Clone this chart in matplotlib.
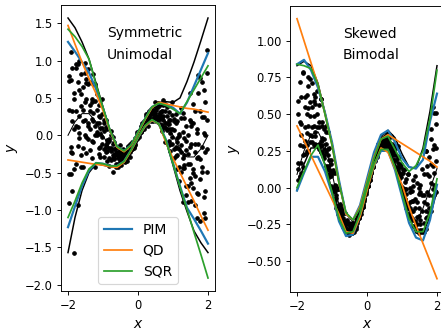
import matplotlib
matplotlib.use("Agg")
import matplotlib.pyplot as plt

# ---------------- curve grid ----------------
GRID_X = [-2.0, -1.8, -1.6, -1.4, -1.2, -1.0, -0.8, -0.6, -0.4, -0.2, 0.0,
          0.2, 0.4, 0.6, 0.8, 1.0, 1.2, 1.4, 1.6, 1.8, 2.0]

# ---------------- left panel: symmetric unimodal ----------------
L_TRUE_UP = [1.57, 1.44, 1.25, 1.02, 0.70, 0.38, 0.07, -0.14, -0.21, -0.14, 0.02,
             0.21, 0.37, 0.44, 0.45, 0.44, 0.50, 0.72, 0.98, 1.27, 1.57]
L_TRUE_LO = [-1.57, -1.10, -0.74, -0.50, -0.38, -0.40, -0.42, -0.43, -0.36, -0.20, -0.02,
             0.14, 0.21, 0.14, -0.08, -0.40, -0.74, -1.02, -1.28, -1.44, -1.57]
L_TRUE_MED = [0.0, 0.18, 0.29, 0.29, 0.18, 0.0, -0.18, -0.29, -0.29, -0.18, 0.0,
              0.18, 0.29, 0.29, 0.18, 0.0, -0.18, -0.29, -0.29, -0.18, 0.0]
L_PIM_UP = [1.25, 1.12, 0.98, 0.84, 0.62, 0.36, 0.06, -0.15, -0.21, -0.13, 0.04,
            0.22, 0.38, 0.43, 0.41, 0.37, 0.29, 0.44, 0.66, 0.88, 1.10]
L_PIM_LO = [-1.23, -0.95, -0.68, -0.47, -0.37, -0.38, -0.41, -0.41, -0.35, -0.20, -0.03,
            0.12, 0.20, 0.15, -0.06, -0.37, -0.68, -0.97, -1.12, -1.28, -1.45]
L_QD_UP = [1.47, 1.22, 0.98, 0.76, 0.56, 0.33, 0.06, -0.16, -0.22, -0.14, 0.03,
           0.21, 0.37, 0.44, 0.42, 0.40, 0.38, 0.36, 0.35, 0.33, 0.31]
L_QD_LO = [-0.33, -0.345, -0.36, -0.375, -0.39, -0.40, -0.42, -0.43, -0.36, -0.21, -0.03,
           0.12, 0.20, 0.15, -0.10, -0.31, -0.50, -0.69, -0.88, -1.08, -1.27]
L_SQR_UP = [1.42, 1.32, 1.19, 1.02, 0.68, 0.37, 0.07, -0.15, -0.21, -0.13, 0.04,
            0.22, 0.38, 0.43, 0.40, 0.35, 0.29, 0.45, 0.61, 0.77, 0.93]
L_SQR_LO = [-1.10, -0.88, -0.64, -0.45, -0.37, -0.38, -0.41, -0.41, -0.35, -0.20, -0.03,
            0.13, 0.21, 0.15, -0.07, -0.38, -0.69, -0.99, -1.30, -1.60, -1.91]

# ---------------- right panel: skewed bimodal ----------------
R_TRUE_UP = [0.83, 0.86, 0.83, 0.71, 0.51, 0.30, 0.04, -0.18, -0.23, -0.15, 0.03,
             0.22, 0.35, 0.39, 0.34, 0.23, 0.14, 0.13, 0.27, 0.52, 0.83]
R_TRUE_LO = [-0.02, 0.16, 0.27, 0.27, 0.16, -0.02, -0.20, -0.31, -0.31, -0.20, -0.02,
             0.16, 0.27, 0.27, 0.16, -0.02, -0.20, -0.31, -0.31, -0.20, -0.02]
R_TRUE_MED = [0.09, 0.25, 0.36, 0.38, 0.29, 0.10, -0.12, -0.27, -0.29, -0.18, -0.01,
              0.17, 0.28, 0.28, 0.17, 0.00, -0.16, -0.24, -0.14, -0.01, 0.13]
R_PIM_UP = [0.84, 0.87, 0.80, 0.68, 0.51, 0.31, 0.05, -0.18, -0.22, -0.12, 0.06,
            0.24, 0.36, 0.39, 0.31, 0.20, 0.14, 0.13, 0.19, 0.45, 0.64]
R_PIM_LO = [-0.02, 0.10, 0.21, 0.21, 0.11, -0.04, -0.23, -0.33, -0.32, -0.19, 0.00,
            0.15, 0.25, 0.25, 0.12, -0.06, -0.24, -0.34, -0.36, -0.22, 0.02]
R_QD_UP = [1.15, 1.00, 0.85, 0.70, 0.50, 0.29, 0.03, -0.18, -0.22, -0.13, 0.04,
           0.21, 0.33, 0.36, 0.33, 0.30, 0.27, 0.24, 0.21, 0.18, 0.14]
R_QD_LO = [0.42, 0.32, 0.22, 0.12, 0.02, -0.08, -0.18, -0.30, -0.31, -0.20, -0.02,
           0.15, 0.27, 0.24, 0.13, 0.02, -0.13, -0.26, -0.38, -0.50, -0.62]
R_SQR_UP = [0.84, 0.83, 0.81, 0.70, 0.50, 0.29, 0.03, -0.17, -0.22, -0.14, 0.03,
            0.20, 0.33, 0.35, 0.26, 0.17, 0.11, 0.15, 0.25, 0.47, 0.80]
R_SQR_LO = [0.00, 0.11, 0.22, 0.29, 0.15, -0.03, -0.21, -0.31, -0.30, -0.18, 0.00,
            0.16, 0.26, 0.26, 0.14, -0.04, -0.21, -0.30, -0.30, -0.17, 0.06]

# ---------------- scatter samples ----------------
PTS_X = [-1.975, -1.925, -1.875, -1.825, -1.775, -1.725, -1.675, -1.625, -1.575, -1.525,
         -1.475, -1.425, -1.375, -1.325, -1.275, -1.225, -1.175, -1.125, -1.075, -1.025,
         -0.975, -0.925, -0.875, -0.825, -0.775, -0.725, -0.675, -0.625, -0.575, -0.525,
         -0.475, -0.425, -0.375, -0.325, -0.275, -0.225, -0.175, -0.125, -0.075, -0.025,
         0.025, 0.075, 0.125, 0.175, 0.225, 0.275, 0.325, 0.375, 0.425, 0.475,
         0.525, 0.575, 0.625, 0.675, 0.725, 0.775, 0.825, 0.875, 0.925, 0.975,
         1.025, 1.075, 1.125, 1.175, 1.225, 1.275, 1.325, 1.375, 1.425, 1.475,
         1.525, 1.575, 1.625, 1.675, 1.725, 1.775, 1.825, 1.875, 1.925, 1.975]

L_PTS_Y1 = [0.34, -0.15, 0.90, -1.58, 0.32, -0.14, 1.00, -0.26, 0.65, 0.20,
            0.48, 0.16, 0.72, -0.30, 0.30, 0.00, 0.55, -0.17, 0.25, -0.02,
            0.06, -0.13, 0.09, -0.41, -0.17, -0.31, -0.09, -0.39, -0.22, -0.32,
            -0.27, -0.31, -0.20, -0.35, -0.22, -0.23, -0.09, -0.16, -0.04, -0.03,
            0.04, 0.06, 0.16, 0.08, 0.21, 0.20, 0.33, 0.21, 0.34, 0.28,
            0.34, 0.26, 0.40, 0.06, 0.26, 0.11, 0.38, -0.08, 0.21, -0.02,
            0.07, -0.15, 0.19, -0.61, -0.13, -0.44, 0.23, -0.68, 0.01, -0.39,
            -0.11, -0.45, 0.32, -1.11, -0.11, -0.58, 0.71, -0.83, 0.45, -0.18]
L_PTS_Y2 = [-0.91, 1.11, -0.24, 0.56, -0.38, 0.72, 0.26, 0.55, -0.42, 0.97,
            -0.24, 0.89, 0.08, 0.48, -0.09, 0.46, 0.16, 0.26, -0.29, 0.48,
            -0.29, 0.21, -0.21, -0.05, -0.33, -0.12, -0.26, -0.22, -0.43, -0.13,
            -0.40, -0.19, -0.31, -0.22, -0.27, -0.16, -0.16, -0.10, -0.13, 0.05,
            -0.02, 0.13, 0.10, 0.19, 0.15, 0.27, 0.26, 0.31, 0.19, 0.45,
            0.19, 0.43, 0.22, 0.33, 0.10, 0.32, 0.16, 0.21, -0.21, 0.44,
            -0.31, 0.29, -0.26, 0.02, -0.49, 0.05, -0.26, -0.08, -0.89, 0.56,
            -0.88, 0.42, -0.55, 0.09, -0.78, 0.32, -0.16, 0.24, -1.11, 1.14]
L_PTS_Y3 = [0.73, -0.52, 0.19, 0.09, 0.96, -0.93, 0.03, 0.82, 0.19, 0.44,
            0.70, -0.05, 0.32, 0.22, 0.82, -0.43, 0.04, 0.40, 0.02, 0.10,
            0.17, -0.23, -0.10, -0.17, 0.06, -0.49, -0.31, -0.17, -0.31, -0.27,
            -0.23, -0.35, -0.27, -0.26, -0.14, -0.29, -0.18, -0.08, -0.08, -0.01,
            0.06, 0.04, 0.12, 0.15, 0.28, 0.13, 0.23, 0.35, 0.28, 0.32,
            0.38, 0.21, 0.29, 0.24, 0.47, -0.09, 0.09, 0.31, 0.03, 0.09,
            0.19, -0.28, -0.09, -0.19, 0.37, -0.89, -0.40, 0.12, -0.38, -0.16,
            0.13, -0.70, -0.22, -0.31, 0.81, -1.15, -0.42, 0.60, -0.22, 0.21]
L_PTS_Y4 = [-0.52, 0.74, -0.74, 0.49, 0.13, 0.95, -0.03, 0.39, -0.17, 0.83,
            -0.02, 0.68, -0.20, 0.44, 0.19, 0.69, 0.01, 0.17, -0.16, 0.29,
            -0.18, 0.11, -0.34, -0.07, -0.21, -0.02, -0.32, -0.25, -0.38, -0.20,
            -0.36, -0.23, -0.36, -0.23, -0.23, -0.12, -0.18, -0.11, -0.11, 0.02,
            0.00, 0.11, 0.07, 0.18, 0.19, 0.30, 0.23, 0.29, 0.23, 0.39,
            0.24, 0.38, 0.15, 0.32, 0.21, 0.42, 0.07, 0.15, -0.11, 0.27,
            -0.19, 0.16, -0.45, -0.01, -0.23, 0.30, -0.44, -0.20, -0.68, 0.20,
            -0.64, 0.17, -0.93, 0.03, -0.29, 0.77, -0.49, 0.03, -0.74, 0.83]
L_PTS_Y5 = [0.80, -0.23, 0.33, -0.45, 0.90, 0.11, 0.60, -0.42, 0.34, 0.01,
            0.75, 0.12, 0.40, -0.08, 0.68, 0.13, 0.34, -0.25, 0.10, -0.12,
            0.20, -0.15, -0.06, -0.31, 0.00, -0.26, -0.18, -0.42, -0.28, -0.35,
            -0.22, -0.32, -0.26, -0.31, -0.16, -0.21, -0.13, -0.17, -0.07, -0.05,
            0.06, 0.05, 0.13, 0.11, 0.26, 0.22, 0.29, 0.19, 0.30, 0.25,
            0.39, 0.25, 0.31, 0.14, 0.41, 0.17, 0.26, -0.13, 0.09, -0.11,
            0.22, -0.17, -0.03, -0.43, 0.23, -0.30, -0.03, -0.80, -0.25, -0.57,
            0.18, -0.50, -0.11, -0.77, 0.56, -0.32, 0.25, -1.04, 0.00, -0.49]

R_PTS_Y1 = [0.05, 0.29, 0.17, 0.79, 0.23, 0.63, 0.25, 0.49, 0.35, 0.59,
            0.30, 0.41, 0.30, 0.60, 0.24, 0.40, 0.15, 0.22, 0.09, 0.16,
            -0.03, -0.02, -0.12, -0.01, -0.20, -0.14, -0.27, -0.25, -0.29, -0.25,
            -0.31, -0.28, -0.29, -0.21, -0.24, -0.18, -0.18, -0.12, -0.08, -0.01,
            0.01, 0.07, 0.10, 0.18, 0.18, 0.25, 0.24, 0.29, 0.28, 0.33,
            0.28, 0.31, 0.27, 0.35, 0.22, 0.28, 0.14, 0.17, 0.08, 0.14,
            -0.03, -0.01, -0.11, 0.09, -0.19, -0.02, -0.26, -0.14, -0.25, -0.04,
            -0.29, -0.16, -0.24, 0.25, -0.20, 0.21, -0.16, 0.15, 0.02, 0.43]
R_PTS_Y2 = [0.50, 0.07, 0.43, 0.28, 0.55, 0.29, 0.69, 0.36, 0.71, 0.42,
            0.57, 0.28, 0.45, 0.32, 0.42, 0.22, 0.38, 0.15, 0.27, 0.08,
            0.10, -0.09, -0.05, -0.14, -0.12, -0.23, -0.17, -0.27, -0.22, -0.29,
            -0.26, -0.31, -0.26, -0.26, -0.21, -0.21, -0.13, -0.13, -0.05, -0.03,
            0.03, 0.05, 0.12, 0.15, 0.21, 0.22, 0.29, 0.27, 0.34, 0.30,
            0.34, 0.27, 0.31, 0.26, 0.28, 0.19, 0.27, 0.13, 0.21, 0.07,
            0.10, -0.08, -0.01, -0.12, -0.03, -0.21, 0.01, -0.23, 0.03, -0.19,
            -0.03, -0.30, -0.05, -0.16, 0.09, -0.14, 0.33, -0.01, 0.51, 0.18]
R_PTS_Y3 = [0.13, 0.72, 0.62, 0.14, 0.41, 0.37, 0.54, 0.74, 0.31, 0.49,
            0.35, 0.66, 0.56, 0.24, 0.34, 0.26, 0.30, 0.38, 0.07, 0.11,
            -0.01, 0.10, 0.01, -0.18, -0.16, -0.21, -0.21, -0.17, -0.30, -0.28,
            -0.30, -0.24, -0.24, -0.28, -0.22, -0.20, -0.15, -0.09, -0.09, -0.02,
            0.01, 0.09, 0.13, 0.14, 0.20, 0.22, 0.27, 0.32, 0.28, 0.32,
            0.29, 0.37, 0.34, 0.24, 0.26, 0.22, 0.22, 0.28, 0.06, 0.09,
            -0.01, 0.13, 0.06, -0.18, -0.10, -0.16, -0.09, 0.08, -0.29, -0.14,
            -0.25, 0.13, 0.09, -0.28, -0.03, -0.05, 0.16, 0.55, -0.05, 0.27]
R_PTS_Y4 = [0.17, 0.45, 0.10, 0.22, 0.62, 0.25, 0.42, 0.31, 0.55, 0.29,
            0.38, 0.50, 0.26, 0.28, 0.45, 0.20, 0.24, 0.13, 0.19, 0.01,
            0.00, 0.02, -0.14, -0.15, -0.11, -0.24, -0.23, -0.28, -0.25, -0.32,
            -0.30, -0.27, -0.30, -0.27, -0.20, -0.21, -0.16, -0.13, -0.07, -0.04,
            0.01, 0.08, 0.10, 0.14, 0.21, 0.21, 0.26, 0.26, 0.31, 0.28,
            0.30, 0.33, 0.26, 0.25, 0.30, 0.19, 0.19, 0.11, 0.15, 0.01,
            0.00, 0.04, -0.14, -0.14, 0.00, -0.22, -0.16, -0.26, -0.10, -0.31,
            -0.22, -0.05, -0.30, -0.21, 0.15, -0.17, 0.03, -0.06, 0.29, -0.03]
R_PTS_Y5 = [0.59, 0.08, 0.36, 0.78, 0.32, 0.50, 0.75, 0.58, 0.41, 0.64,
            0.62, 0.29, 0.41, 0.60, 0.29, 0.33, 0.42, 0.26, 0.12, 0.19,
            0.12, -0.08, -0.07, -0.01, -0.18, -0.18, -0.16, -0.23, -0.28, -0.24,
            -0.25, -0.31, -0.27, -0.21, -0.23, -0.19, -0.13, -0.11, -0.08, -0.01,
            0.04, 0.05, 0.11, 0.18, 0.19, 0.24, 0.30, 0.30, 0.29, 0.34,
            0.35, 0.28, 0.30, 0.35, 0.24, 0.25, 0.28, 0.20, 0.10, 0.16,
            0.12, -0.08, -0.04, 0.09, -0.14, -0.09, 0.05, -0.08, -0.20, 0.00,
            0.02, -0.29, -0.10, 0.25, -0.11, 0.08, 0.40, 0.26, 0.10, 0.51]

PANEL_TEXT = ["Symmetric\nUnimodal", "Skewed\nBimodal"]
LEGEND_LABELS = ["PIM", "QD", "SQR"]

DPI = 83
fig = plt.figure(figsize=(441 / DPI, 330 / DPI), dpi=DPI)
axL = fig.add_axes([61 / 441, 39 / 330, 154 / 441, 286 / 330])
axR = fig.add_axes([290 / 441, 38.3 / 330, 154 / 441, 286 / 330])


def draw(ax, ys_pts, tu, tl, tm, pu, pl, qu, ql, su, sl, text, text_x):
    for ys in ys_pts:
        ax.plot(PTS_X, ys, 'k.', ms=6, zorder=2)
    ax.plot(GRID_X, tu, color='k', lw=1.3, zorder=3)
    ax.plot(GRID_X, tl, color='k', lw=1.3, zorder=3)
    ax.plot(GRID_X, tm, color='k', lw=0.9, zorder=3)
    h1, = ax.plot(GRID_X, pu, color='C0', lw=1.9, zorder=4)
    ax.plot(GRID_X, pl, color='C0', lw=1.9, zorder=4)
    h2, = ax.plot(GRID_X, qu, color='C1', lw=1.5, zorder=5)
    ax.plot(GRID_X, ql, color='C1', lw=1.5, zorder=5)
    h3, = ax.plot(GRID_X, su, color='C2', lw=1.5, zorder=6)
    ax.plot(GRID_X, sl, color='C2', lw=1.5, zorder=6)
    ax.text(text_x, 0.925, text, transform=ax.transAxes, fontsize=12,
            ha='left', va='top', linespacing=1.65)
    ax.set_xlabel('$x$', fontsize=12)
    ax.set_ylabel('$y$', fontsize=12)
    ax.tick_params(labelsize=10)
    ax.set_xticks([-2, 0, 2])
    return [h1, h2, h3]


handles = draw(axL, [L_PTS_Y1, L_PTS_Y2, L_PTS_Y3, L_PTS_Y4, L_PTS_Y5],
               L_TRUE_UP, L_TRUE_LO, L_TRUE_MED,
               L_PIM_UP, L_PIM_LO, L_QD_UP, L_QD_LO, L_SQR_UP, L_SQR_LO,
               PANEL_TEXT[0], 0.30)
draw(axR, [R_PTS_Y1, R_PTS_Y2, R_PTS_Y3, R_PTS_Y4, R_PTS_Y5],
     R_TRUE_UP, R_TRUE_LO, R_TRUE_MED,
     R_PIM_UP, R_PIM_LO, R_QD_UP, R_QD_LO, R_SQR_UP, R_SQR_LO,
     PANEL_TEXT[1], 0.342)

axL.set_yticks([-2.0, -1.5, -1.0, -0.5, 0.0, 0.5, 1.0, 1.5])
axR.set_yticks([-0.5, -0.25, 0.0, 0.25, 0.5, 0.75, 1.0])
axL.legend(handles, LEGEND_LABELS, loc='lower center', fontsize=12)

fig.savefig("out.png", dpi=DPI)
